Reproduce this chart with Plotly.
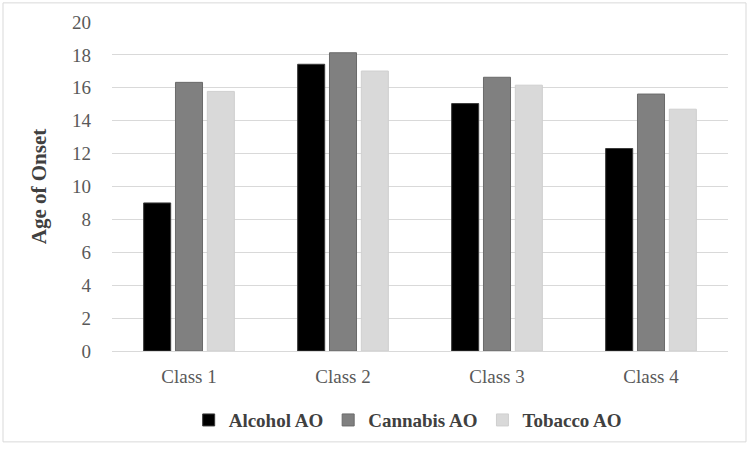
import plotly.graph_objects as go

categories = ["Class 1", "Class 2", "Class 3", "Class 4"]
alcohol = [9.0, 17.43, 15.04, 12.31]
cannabis = [16.33, 18.13, 16.64, 15.62]
tobacco = [15.78, 17.02, 16.16, 14.7]
y_ticks = list(range(0, 21, 2))

series = [
    ("Alcohol AO", alcohol, "#000000", "#3a3a3a"),
    ("Cannabis AO", cannabis, "#808080", "#6a6a6a"),
    ("Tobacco AO", tobacco, "#d9d9d9", "#cfcfcf"),
]

SERIF = "Times New Roman, Liberation Serif, Tinos, DejaVu Serif, serif"

fig = go.Figure()
for name, vals, fill, edge in series:
    fig.add_trace(go.Bar(
        x=categories, y=vals, name=name,
        marker=dict(color=fill, line=dict(color=edge, width=1)),
    ))

fig.update_layout(
    width=750, height=451,
    margin=dict(l=112, r=22, t=22, b=97),
    paper_bgcolor="white", plot_bgcolor="white",
    barmode="group", bargap=0.38, bargroupgap=0.15,
    font=dict(family=SERIF, color="#595959"),
    showlegend=True,
    legend=dict(
        orientation="h", x=0.48, xanchor="center", y=-0.21, yanchor="middle",
        font=dict(family=SERIF, size=19, color="#404040", weight="bold"),
        tracegroupgap=0,
    ),
    xaxis=dict(
        showgrid=False, showline=False, zeroline=False,
        tickfont=dict(family=SERIF, size=19, color="#595959"), ticks="",
        ticklabelstandoff=12,
    ),
    yaxis=dict(
        range=[0, 20], tickvals=y_ticks, showgrid=True, gridcolor="#d9d9d9", gridwidth=1,
        zeroline=True, zerolinecolor="#d9d9d9", zerolinewidth=1, showline=False,
        tickfont=dict(family=SERIF, size=19, color="#595959"), ticks="",
        ticklabelstandoff=20,
        title=dict(text="Age of Onset", standoff=19,
                   font=dict(family=SERIF, size=21, color="#404040", weight="bold")),
    ),
    shapes=[dict(
        type="rect", xref="paper", yref="paper",
        x0=(3 - 112) / 616, x1=(746 - 112) / 616,
        y0=(354.3 - 446) / 332, y1=(354.3 - 3) / 332,
        line=dict(color="#d9d9d9", width=1), fillcolor="rgba(0,0,0,0)", layer="below",
    )],
)

fig.write_html("out.html", config={"displayModeBar": False},
               post_script="document.body.style.margin='0px';")
